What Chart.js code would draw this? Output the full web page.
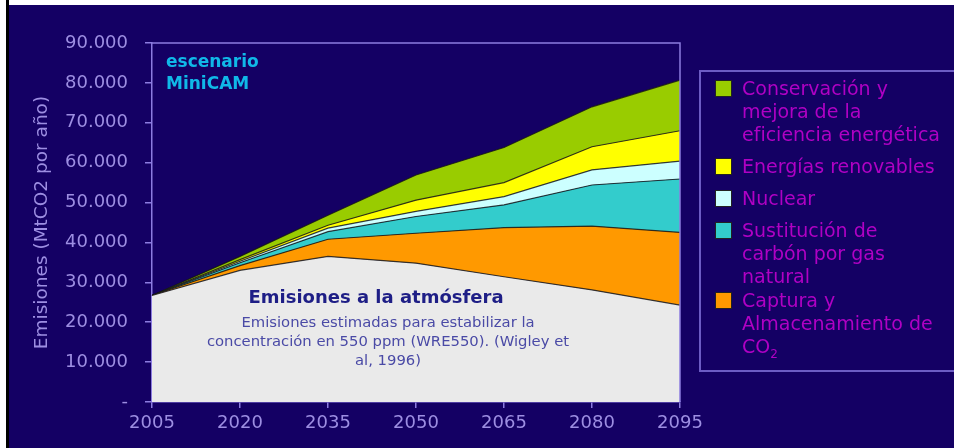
<!DOCTYPE html>
<html lang="es">
<head>
<meta charset="utf-8">
<title>Escenario MiniCAM</title>
<script src="https://cdn.jsdelivr.net/npm/chart.js@4.4.1/dist/chart.umd.min.js"></script>
<style>
  html, body { margin: 0; padding: 0; background: #140064; overflow: hidden; width: 954px; height: 448px; }
  #wrap { position: relative; width: 954px; height: 448px; background: #140064; }
  #chart { position: absolute; left: 0; top: 0; }
  .edge-top { position: absolute; left: 0; top: 0; width: 1000px; height: 5px; background: #fff; }
  .edge-left { position: absolute; left: 0; top: 0; width: 6px; height: 448px; background: #fff; }
  .edge-line { position: absolute; left: 6px; top: 0; width: 3px; height: 448px; background: #000; }
  #legend {
    position: absolute; left: 699px; top: 70px; width: 320px; height: 302px;
    box-sizing: border-box; border-top: 2px solid #6c5cc4; border-bottom: 2px solid #6c5cc4;
    border-left: 2px solid #6c5cc4; padding-top: 5px;
    font-family: "DejaVu Sans", Verdana, sans-serif; font-size: 19px; line-height: 23px; color: #b000c4;
  }
  .item { display: flex; align-items: flex-start; margin-bottom: 9px; white-space: nowrap; }
  .item:nth-last-child(2) { margin-bottom: 1px; }
  .swatch { width: 17px; height: 17px; box-sizing: border-box; border: 1px solid #222; margin: 3px 10px 0 14px; flex: none; }
  sub { font-size: 12px; line-height: 0; }
</style>
</head>
<body>
<div id="wrap">
  <canvas id="chart" width="954" height="448"></canvas>
  <div id="legend"></div>
  <div class="edge-top"></div>
  <div class="edge-left"></div>
  <div class="edge-line"></div>
</div>
<script>
// años del escenario
const years = ['2005', '2020', '2035', '2050', '2065', '2080', '2095'];

// emisiones a la atmósfera (MtCO2 por año)
const atmosfera = [26700, 33000, 36500, 34800, 31400, 28100, 24300];
// reducciones por medida, apiladas encima
const captura = [0, 1200, 4300, 7500, 12300, 16000, 18200];
const sustitucion = [0, 700, 1900, 4200, 5700, 10300, 13400];
const nuclear = [0, 400, 900, 1300, 2100, 3800, 4500];
const renovables = [0, 400, 700, 2800, 3500, 5800, 7600];
const conservacion = [0, 800, 2500, 6300, 8800, 10000, 12700];

const seriesNames = [
    'Emisiones a la atmósfera',
    'Captura y Almacenamiento de CO2',
    'Sustitución de carbón por gas natural',
    'Nuclear',
    'Energías renovables',
    'Conservación y mejora de la eficiencia energética'
];
const seriesColors = ['#eaeaea', '#ff9900', '#33cccc', '#ccffff', '#ffff00', '#99cc00'];

// texto de la leyenda, línea por línea (de arriba abajo)
const legendLines = [
    ['Conservación y', 'mejora de la', 'eficiencia energética'],
    ['Energías renovables'],
    ['Nuclear'],
    ['Sustitución de', 'carbón por gas', 'natural'],
    ['Captura y', 'Almacenamiento de', 'CO<sub>2</sub>']
];
const legendColors = ['#99cc00', '#ffff00', '#ccffff', '#33cccc', '#ff9900'];

const axisColor = '#8c7ce0';
const tickColor = '#9d8ee2';
const font = '"DejaVu Sans", Verdana, sans-serif';

function formatMiles(v) {
    if (v === 0) return '-';
    return String(v).replace(/\B(?=(\d{3})+(?!\d))/g, '.');
}

const series = [atmosfera, captura, sustitucion, nuclear, renovables, conservacion];
const datasets = series.map((data, i) => ({
    label: seriesNames[i],
    data: data,
    backgroundColor: seriesColors[i],
    borderColor: 'rgba(20,20,20,0.8)',
    borderWidth: 1.2,
    fill: i === 0 ? 'origin' : '-1',
    pointRadius: 0,
    tension: 0
}));

// marco superior y derecho del área de trazado
const frame = {
    id: 'frame',
    afterDraw(chart) {
        const { ctx, chartArea: a } = chart;
        ctx.save();
        ctx.strokeStyle = axisColor;
        ctx.lineWidth = 1.5;
        ctx.beginPath();
        ctx.moveTo(a.left, a.top);
        ctx.lineTo(a.right, a.top);
        ctx.lineTo(a.right, a.bottom);
        ctx.stroke();
        ctx.restore();
    }
};

// rótulos dentro del gráfico
const notes = {
    id: 'notes',
    afterDatasetsDraw(chart) {
        const { ctx, chartArea: a } = chart;
        ctx.save();
        ctx.textBaseline = 'middle';

        ctx.fillStyle = '#10b8e8';
        ctx.font = 'bold 17px ' + font;
        ctx.textAlign = 'left';
        ctx.fillText('escenario', a.left + 14, 63);
        ctx.fillText('MiniCAM', a.left + 14, 85);

        ctx.textAlign = 'center';
        ctx.fillStyle = '#1e1e86';
        ctx.font = 'bold 18px ' + font;
        ctx.fillText('Emisiones a la atmósfera', 376, 298);

        ctx.fillStyle = '#4a4aa6';
        ctx.font = '14.8px ' + font;
        ctx.fillText('Emisiones estimadas para estabilizar la', 388, 323);
        ctx.fillText('concentración en 550 ppm (WRE550). (Wigley et', 388, 342);
        ctx.fillText('al, 1996)', 388, 361);
        ctx.restore();
    }
};

const ctx = document.getElementById('chart').getContext('2d');
new Chart(ctx, {
    type: 'line',
    data: { labels: years, datasets: datasets },
    options: {
        responsive: false,
        animation: false,
        layout: { padding: { top: 43, right: 274, left: 0, bottom: 0 } },
        plugins: { legend: { display: false }, tooltip: { enabled: false } },
        scales: {
            x: {
                offset: false,
                grid: { drawOnChartArea: false, tickLength: 6, color: axisColor, lineWidth: 1.5 },
                border: { color: axisColor, width: 1.5 },
                ticks: { color: tickColor, font: { family: font, size: 18 }, padding: 5, maxRotation: 0, autoSkip: false },
                afterFit(scale) { scale.height = 46; }
            },
            y: {
                stacked: true,
                min: 0,
                max: 90000,
                grid: { drawOnChartArea: false, tickLength: 7, color: axisColor, lineWidth: 1.5 },
                border: { color: axisColor, width: 1.5 },
                ticks: { stepSize: 10000, color: tickColor, font: { family: font, size: 18 }, padding: 17, callback: formatMiles },
                title: {
                    display: true,
                    text: 'Emisiones (MtCO2 por año)',
                    color: tickColor,
                    font: { family: font, size: 18.5 },
                    padding: { top: 31, bottom: 0 }
                },
                afterFit(scale) { scale.width = 152; }
            }
        }
    },
    plugins: [frame, notes]
});

// leyenda en HTML
const legend = document.getElementById('legend');
legendLines.forEach((lines, i) => {
    const item = document.createElement('div');
    item.className = 'item';
    item.innerHTML = `<span class="swatch" style="background:${legendColors[i]}"></span><span>${lines.join('<br>')}</span>`;
    legend.appendChild(item);
});
</script>
</body>
</html>
